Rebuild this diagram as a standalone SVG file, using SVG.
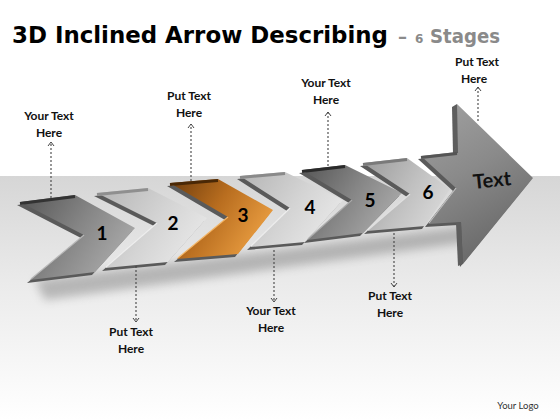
<svg xmlns="http://www.w3.org/2000/svg" width="560" height="420" viewBox="0 0 560 420">
<style>
.lbl{font-family:Lato,"Liberation Sans",sans-serif;font-weight:bold;font-size:12px;fill:#111;text-anchor:middle}
.num{font-family:Lato,"Liberation Sans",sans-serif;font-weight:bold;font-size:19px;fill:#000;text-anchor:middle}
.conn{stroke:#444;stroke-width:1.1;stroke-dasharray:2 2;fill:none}
.ext{fill:#5a5a5a}
.top{fill:none;stroke-width:3;stroke-linecap:butt}
.hl{stroke-width:1.2;fill:none}
</style>
<defs>
<linearGradient id="bg" x1="0" y1="0" x2="0" y2="1">
<stop offset="0" stop-color="#d6d6d6"/>
<stop offset="0.45" stop-color="#ebebeb"/>
<stop offset="1" stop-color="#ffffff"/>
</linearGradient>
<linearGradient id="gd" x1="0" y1="0" x2="1" y2="0.5">
<stop offset="0" stop-color="#555"/>
<stop offset="0.55" stop-color="#858585"/>
<stop offset="1" stop-color="#a8a8a8"/>
</linearGradient>
<linearGradient id="gl" x1="0" y1="0" x2="1" y2="0.5">
<stop offset="0" stop-color="#b4b4b4"/>
<stop offset="0.6" stop-color="#d4d4d4"/>
<stop offset="1" stop-color="#e6e6e6"/>
</linearGradient>
<linearGradient id="gm" x1="0" y1="0" x2="1" y2="0.5">
<stop offset="0" stop-color="#9a9a9a"/>
<stop offset="0.6" stop-color="#c0c0c0"/>
<stop offset="1" stop-color="#d6d6d6"/>
</linearGradient>
<linearGradient id="go" x1="0" y1="0" x2="1" y2="0.5">
<stop offset="0" stop-color="#6e3c0c"/>
<stop offset="0.5" stop-color="#b86d1f"/>
<stop offset="1" stop-color="#e89c40"/>
</linearGradient>
<linearGradient id="ga" x1="0" y1="0" x2="0.4" y2="1">
<stop offset="0" stop-color="#a2a2a2"/>
<stop offset="0.5" stop-color="#8a8a8a"/>
<stop offset="1" stop-color="#6a6a6a"/>
</linearGradient>
<filter id="blur" x="-20%" y="-50%" width="140%" height="200%"><feGaussianBlur stdDeviation="5"/></filter>
<marker id="ah" markerWidth="8" markerHeight="8" refX="5" refY="4" orient="auto" markerUnits="userSpaceOnUse">
<path d="M1,1 L5,4 L1,7" fill="none" stroke="#444" stroke-width="1"/>
</marker>
</defs>

<rect x="0" y="0" width="560" height="420" fill="#fff"/>
<rect x="0" y="176" width="560" height="244" fill="url(#bg)"/>
<polygon points="35,280 470,226 470,242 45,300" fill="#777" opacity="0.45" filter="url(#blur)"/>

<text x="12" y="43" font-family="'DejaVu Sans',sans-serif" font-weight="bold" font-size="23" fill="#000" textLength="376" lengthAdjust="spacingAndGlyphs">3D Inclined Arrow Describing</text>
<text x="398" y="43" font-family="'DejaVu Sans',sans-serif" font-weight="bold" font-size="18" fill="#8a8a8a">–</text>
<text x="415" y="43" font-family="'DejaVu Sans',sans-serif" font-weight="bold" font-size="12" fill="#8a8a8a">6</text>
<text x="430" y="43" font-family="'DejaVu Sans',sans-serif" font-weight="bold" font-size="19" fill="#8a8a8a" textLength="70" lengthAdjust="spacingAndGlyphs">Stages</text>

<g id="stage1">
<polygon class="ext" transform="translate(-3,3)" points="20,202 75,195 135,228 95,272 30,280 84,235"/>
<polygon fill="url(#gd)" points="20,202 75,195 135,228 95,272 30,280 84,235"/>
<polyline class="top" stroke="#333" points="20,203.5 75,196.5"/>
<line class="hl" stroke="#b8b8b8" x1="84" y1="235" x2="31" y2="279"/>
<text class="num" x="102" y="240">1</text>
</g>
<g id="stage2">
<polygon class="ext" fill="#8a8a8a" transform="translate(-3,3)" points="97,193 148,188 207,218 168,262 105,268 157,223"/>
<polygon fill="url(#gl)" points="97,193 148,188 207,218 168,262 105,268 157,223"/>
<polyline class="top" stroke="#8f8f8f" points="97,194.5 148,189.5"/>
<line class="hl" stroke="#eee" x1="157" y1="223" x2="106" y2="267"/>
<text class="num" x="173" y="230">2</text>
</g>
<g id="stage3">
<polygon class="ext" fill="#5e3208" transform="translate(-3,3)" points="170,183 218,179 273,210 238,254 177,259 228,217"/>
<polygon fill="url(#go)" points="170,183 218,179 273,210 238,254 177,259 228,217"/>
<polyline class="top" stroke="#4a2806" points="170,184.5 218,180.5"/>
<line class="hl" stroke="#f3b464" x1="228" y1="217" x2="178" y2="258"/>
<text class="num" x="243" y="222">3</text>
</g>
<g id="stage4">
<polygon class="ext" fill="#8c8c8c" transform="translate(-3,3)" points="240,176 285,172 343,200 305,242 250,247 290,208"/>
<polygon fill="url(#gl)" points="240,176 285,172 343,200 305,242 250,247 290,208"/>
<polyline class="top" stroke="#8a8a8a" points="240,177.5 285,173.5"/>
<line class="hl" stroke="#eee" x1="290" y1="208" x2="251" y2="246"/>
<text class="num" x="310" y="214">4</text>
</g>
<g id="stage5">
<polygon class="ext" fill="#3a3a3a" transform="translate(-3,3)" points="302,170 345,165 402,193 363,233 307,240 352,200"/>
<polygon fill="url(#gd)" points="302,170 345,165 402,193 363,233 307,240 352,200"/>
<polyline class="top" stroke="#2a2a2a" points="302,171.5 345,166.5"/>
<line class="hl" stroke="#aaa" x1="352" y1="200" x2="308" y2="239"/>
<text class="num" x="370" y="207">5</text>
</g>
<g id="stage6">
<polygon class="ext" fill="#7a7a7a" transform="translate(-3,3)" points="363,163 407,158 450,189 425,226 367,231 410,194"/>
<polygon fill="url(#gm)" points="363,163 407,158 450,189 425,226 367,231 410,194"/>
<polyline class="top" stroke="#7a7a7a" points="363,164.5 407,159.5"/>
<line class="hl" stroke="#e0e0e0" x1="410" y1="194" x2="368" y2="230"/>
<text class="num" x="428" y="199">6</text>
</g>
<g id="arrow">
<polygon class="ext" fill="#4a4a4a" transform="translate(-3,3)" points="421,156 457,152 457,104 533,178 463,264 461,222 428,224 456,188"/>
<polygon fill="url(#ga)" points="421,156 457,152 457,104 533,178 463,264 461,222 428,224 456,188"/>
<polygon fill="#5e5e5e" points="452,107 457,104 458,153 453,154"/>
<polygon fill="#5e5e5e" points="456,223 461,222 463,264 458,266"/>
<polyline class="top" stroke="#555" points="421,157.5 457,153.5"/>
<line class="hl" stroke="#c0c0c0" x1="456" y1="188" x2="429" y2="223"/>
<text x="492" y="187" transform="rotate(-6 492 180)" font-family="Lato,'Liberation Sans',sans-serif" font-weight="bold" font-size="20" fill="#111" text-anchor="middle">Text</text>
</g>

<g id="connectors">
<line class="conn" x1="51" y1="198" x2="51" y2="142" marker-end="url(#ah)"/>
<line class="conn" x1="191" y1="181" x2="191" y2="124" marker-end="url(#ah)"/>
<line class="conn" x1="328" y1="166" x2="328" y2="112" marker-end="url(#ah)"/>
<line class="conn" x1="478" y1="121" x2="478" y2="87" marker-end="url(#ah)"/>
<line class="conn" x1="136" y1="266" x2="136" y2="322" marker-end="url(#ah)"/>
<line class="conn" x1="274" y1="250" x2="274" y2="302" marker-end="url(#ah)"/>
<line class="conn" x1="394" y1="233" x2="394" y2="287" marker-end="url(#ah)"/>
</g>

<g id="labels">
<text class="lbl" x="49" y="120">Your Text</text>
<text class="lbl" x="49" y="137">Here</text>
<text class="lbl" x="189" y="100">Put Text</text>
<text class="lbl" x="189" y="117">Here</text>
<text class="lbl" x="326" y="87">Your Text</text>
<text class="lbl" x="326" y="104">Here</text>
<text class="lbl" x="477" y="66">Put Text</text>
<text class="lbl" x="474" y="83">Here</text>
<text class="lbl" x="131" y="336">Put Text</text>
<text class="lbl" x="131" y="353">Here</text>
<text class="lbl" x="271" y="315">Your Text</text>
<text class="lbl" x="271" y="332">Here</text>
<text class="lbl" x="390" y="300">Put Text</text>
<text class="lbl" x="390" y="317">Here</text>
<text x="518" y="409" font-family="Lato,'Liberation Sans',sans-serif" font-size="9.5" fill="#333" text-anchor="middle">Your Logo</text>
</g>
</svg>
